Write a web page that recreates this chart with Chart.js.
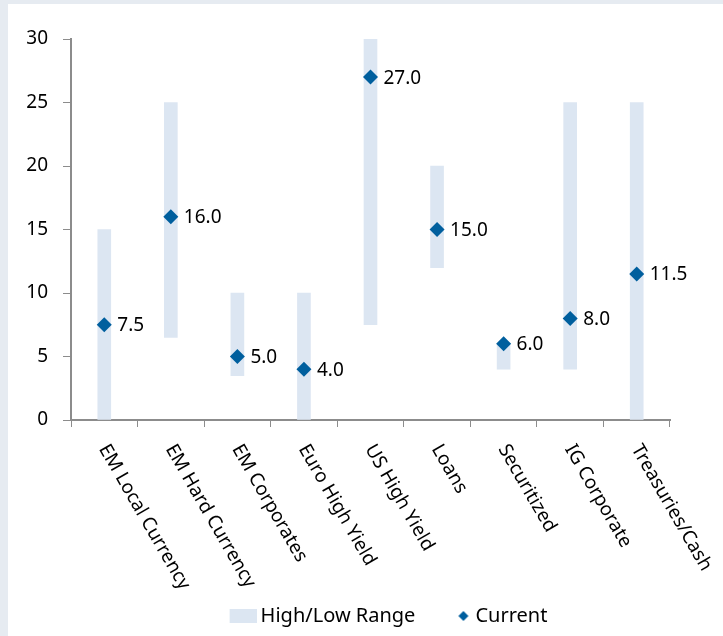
<!DOCTYPE html>
<html>
<head>
<meta charset="utf-8">
<script src="https://cdn.jsdelivr.net/npm/chart.js@4/dist/chart.umd.min.js"></script>
<style>
  body { margin: 0; background: #e6ebf1; width: 723px; height: 636px; overflow: hidden; }
  #wrap { position: absolute; left: 8px; top: 4px; width: 715px; height: 632px; background: #fff; }
</style>
</head>
<body>
<div id="wrap"><canvas id="rangeChart" width="715" height="632"></canvas></div>
<script>
const categories = ["EM Local Currency", "EM Hard Currency", "EM Corporates", "Euro High Yield",
    "US High Yield", "Loans", "Securitized", "IG Corporate", "Treasuries/Cash"];
const lowValues  = [0, 6.5, 3.5, 0, 7.5, 12, 4, 4, 0];
const highValues = [15, 25, 10, 10, 30, 20, 6, 25, 25];
const currentValues = [7.5, 16, 5, 4, 27, 15, 6, 8, 11.5];
const yTicks = [0, 5, 10, 15, 20, 25, 30];

const FONT = "'Noto Sans', sans-serif";
const barColor = "#dce6f2";
const pointColor = "#005f9e";
const axisColor = "#8c8c8c";

// little pictures for the legend
function rangeIcon(){
    const c = document.createElement("canvas");
    c.width = 32; c.height = 14;
    const g = c.getContext("2d");
    g.fillStyle = barColor;
    g.fillRect(5, 0, 27, 14);
    return c;
}
function diamondIcon(){
    const c = document.createElement("canvas");
    c.width = 34; c.height = 12;
    const g = c.getContext("2d");
    g.fillStyle = pointColor;
    g.beginPath();
    g.moveTo(25, 1); g.lineTo(30, 6); g.lineTo(25, 11); g.lineTo(20, 6);
    g.closePath();
    g.fill();
    return c;
}

const valueLabels = {
    id: "valueLabels",
    afterDatasetsDraw(chart){
        const ctx = chart.ctx;
        const meta = chart.getDatasetMeta(1);
        ctx.save();
        ctx.font = "19px " + FONT;
        ctx.fillStyle = "#000";
        ctx.textAlign = "left";
        ctx.textBaseline = "middle";
        meta.data.forEach((pt, i) => {
            ctx.fillText(currentValues[i].toFixed(1), pt.x + 13, pt.y + 1);
        });
        ctx.restore();
    }
};

const slantedLabels = {
    id: "slantedLabels",
    afterDraw(chart){
        const ctx = chart.ctx;
        const xs = chart.scales.x;
        ctx.save();
        ctx.font = "19px " + FONT;
        ctx.fillStyle = "#000";
        ctx.textAlign = "left";
        ctx.textBaseline = "middle";
        categories.forEach((name, i) => {
            ctx.save();
            ctx.translate(xs.getPixelForValue(i) - 1, xs.top + 26);
            ctx.rotate(Math.PI / 3);
            ctx.fillText(name, 0, 0);
            ctx.restore();
        });
        ctx.restore();
    }
};

// nudge the legend right, like the original
const legendShift = {
    id: "legendShift",
    afterLayout(chart){
        chart.legend.left += 50;
        chart.legend.right += 50;
    }
};

new Chart(document.getElementById("rangeChart"), {
    type: "bar",
    data: {
        labels: categories,
        datasets: [{
            label: "High/Low Range",
            data: lowValues.map((lo, i) => [lo, highValues[i]]),
            backgroundColor: barColor,
            barThickness: 13,
            order: 2
        }, {
            type: "line",
            label: "Current",
            data: currentValues,
            showLine: false,
            pointStyle: "rectRot",
            pointRadius: 7.5,
            pointHoverRadius: 7.5,
            backgroundColor: pointColor,
            borderColor: pointColor,
            borderWidth: 0,
            order: 1
        }]
    },
    options: {
        responsive: false,
        animation: false,
        layout: { padding: { top: 35, right: 53, left: 0, bottom: 0 } },
        plugins: {
            tooltip: { enabled: false },
            legend: {
                position: "bottom",
                labels: {
                    usePointStyle: true,
                    padding: 30,
                    color: "#000",
                    font: { family: FONT, size: 20 },
                    generateLabels(chart){
                        return [
                            { text: "High/Low Range", pointStyle: rangeIcon(), fillStyle: barColor, strokeStyle: barColor, lineWidth: 0, datasetIndex: 0 },
                            { text: "Current", pointStyle: diamondIcon(), fillStyle: pointColor, strokeStyle: pointColor, lineWidth: 0, datasetIndex: 1 }
                        ];
                    }
                }
            }
        },
        scales: {
            x: {
                afterFit(scale){ scale.height = 156; },
                grid: { display: true, drawOnChartArea: false, drawTicks: true, tickLength: 7, color: axisColor, offset: true },
                border: { color: axisColor, width: 2 },
                ticks: { display: false }
            },
            y: {
                min: 0,
                max: 30,
                afterFit(scale){ scale.width = 63; },
                afterBuildTicks(scale){ scale.ticks = yTicks.map(v => ({ value: v })); },
                grid: { display: true, drawOnChartArea: false, drawTicks: true, tickLength: 8, color: axisColor },
                border: { color: axisColor, width: 2 },
                ticks: { color: "#000", padding: 15, font: { family: FONT, size: 19 } }
            }
        }
    },
    plugins: [valueLabels, slantedLabels, legendShift]
});
</script>
</body>
</html>
